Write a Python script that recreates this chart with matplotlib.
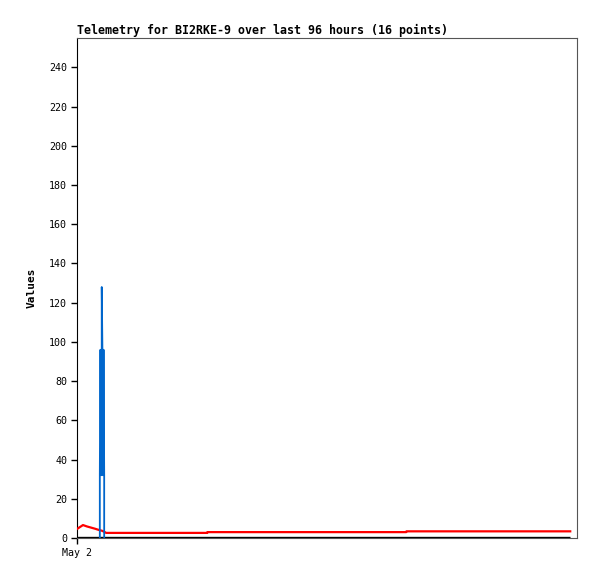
import matplotlib
matplotlib.use("Agg")
import matplotlib.pyplot as plt

# hours since start of window (96 h window, starts May 2)
red_t = [0.0, 1.15, 1.9, 2.7, 3.5, 4.2, 4.8, 5.2, 5.6, 25.0, 25.05, 63.2, 63.25, 94.7]
red_v = [4.6, 6.6, 5.9, 5.3, 4.7, 4.1, 3.7, 3.2, 2.6, 2.6, 3.0, 3.0, 3.4, 3.4]

blue_t = [4.38, 4.38, 4.5, 4.62, 4.75, 4.75, 4.88, 5.0, 5.1, 5.22, 5.22]
blue_v = [0, 32, 96, 32, 96, 128, 96, 32, 96, 32, 0]

black_t = [0.0, 94.7]
black_v = [0, 0]

mono = "DejaVu Sans Mono"

fig = plt.figure(figsize=(5.97, 5.79), dpi=100)
ax = fig.add_axes([77 / 597, 41 / 579, 500 / 597, 500 / 579])

ax.plot(black_t, black_v, color="black", lw=2.4, solid_capstyle="butt", zorder=2)
ax.plot(red_t, red_v, color="#ff0000", lw=1.6, zorder=3)
ax.plot(blue_t, blue_v, color="#0066cc", lw=1.3, zorder=4)

ax.set_xlim(0, 96)
ax.set_ylim(0, 255)
ax.set_yticks(range(0, 241, 20))
ax.set_xticks([0])
ax.set_xticklabels(["May 2"])
ax.tick_params(axis="both", direction="out", length=4, width=1, labelsize=7.2, pad=3)
for lab in ax.get_xticklabels() + ax.get_yticklabels():
    lab.set_family(mono)

for s in ("top", "right", "bottom"):
    ax.spines[s].set_color("#555555")
    ax.spines[s].set_linewidth(0.8)
ax.spines["left"].set_color("black")

ax.set_title("Telemetry for BI2RKE-9 over last 96 hours (16 points)",
             loc="left", family=mono, fontweight="bold", fontsize=8.35, pad=3)
ax.set_ylabel("Values", family=mono, fontweight="bold", fontsize=8, labelpad=9)

plt.savefig("out.png", dpi=100)
